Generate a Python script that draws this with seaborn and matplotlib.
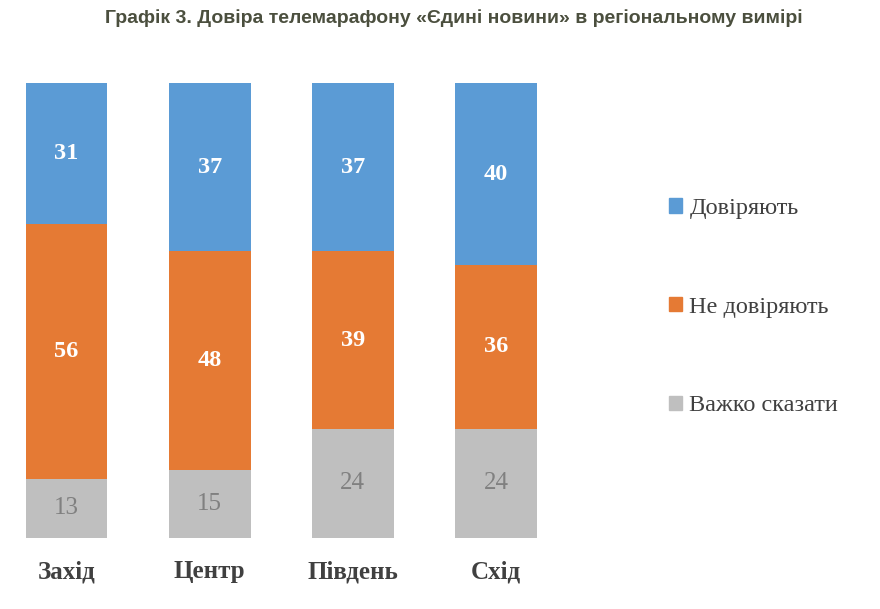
import matplotlib
matplotlib.use("Agg")
from matplotlib import pyplot as plt
from matplotlib.patches import Patch
import pandas as pd
import seaborn as sns

regions = ["Захід", "Центр", "Південь", "Схід"]
trust = [31, 37, 37, 40]
distrust = [56, 48, 39, 36]
hard_to_say = [13, 15, 24, 24]
series_names = ["Довіряють", "Не довіряють", "Важко сказати"]

title = "Графік 3. Довіра телемарафону «Єдині новини» в регіональному вимірі"

blue = "#5B9BD5"
orange = "#E57A34"
grey = "#BFBFBF"

df = pd.DataFrame({"region": regions, "trust": trust,
                   "distrust": distrust, "hard": hard_to_say})
df["low"] = df["hard"]
df["mid"] = df["hard"] + df["distrust"]
df["top"] = df["mid"] + df["trust"]

sns.set_theme(style="white")
plt.rcParams["font.family"] = ["Liberation Serif", "DejaVu Serif"]

fig = plt.figure(figsize=(8.8, 6.09), dpi=100)
ax = fig.add_axes([0.0267, 0.1166, 0.5858, 0.7471])

bw = 0.572
sns.barplot(data=df, x="region", y="top", color=blue, saturation=1,
            width=bw, ax=ax, linewidth=0)
sns.barplot(data=df, x="region", y="mid", color=orange, saturation=1,
            width=bw, ax=ax, linewidth=0)
sns.barplot(data=df, x="region", y="low", color=grey, saturation=1,
            width=bw, ax=ax, linewidth=0)

for i, row in df.iterrows():
    ax.text(i, row["low"] / 2, str(row["hard"]), ha="center", va="center",
            fontsize=18, color="#808080")
    ax.text(i, row["low"] + row["distrust"] / 2, str(row["distrust"]),
            ha="center", va="center", fontsize=17.5, color="white",
            fontweight="bold")
    ax.text(i, row["mid"] + row["trust"] / 2, str(row["trust"]),
            ha="center", va="center", fontsize=17.5, color="white",
            fontweight="bold")

ax.set_xlim(-0.3, 3.3)
ax.set_ylim(0, 100)
ax.set_xlabel("")
ax.set_ylabel("")
ax.set_yticks([])
ax.tick_params(axis="x", length=0, pad=16)
for lbl in ax.get_xticklabels():
    lbl.set_fontsize(18)
    lbl.set_fontweight("bold")
    lbl.set_color("#404040")
sns.despine(ax=ax, left=True, bottom=True)

handles = [Patch(color=c) for c in (blue, orange, grey)]
fig.legend(handles, series_names, loc="upper left",
           bbox_to_anchor=(0.735, 0.711), frameon=False, fontsize=17.5,
           handlelength=0.55, handleheight=0.55, handletextpad=0.3,
           labelspacing=3.2, labelcolor="#404040")

fig.text(0.516, 0.971, title, ha="center", va="center", fontsize=14,
         fontweight="bold", color="#4B4F3E",
         family=["Liberation Sans", "DejaVu Sans"])

fig.savefig("out.png", dpi=100)
